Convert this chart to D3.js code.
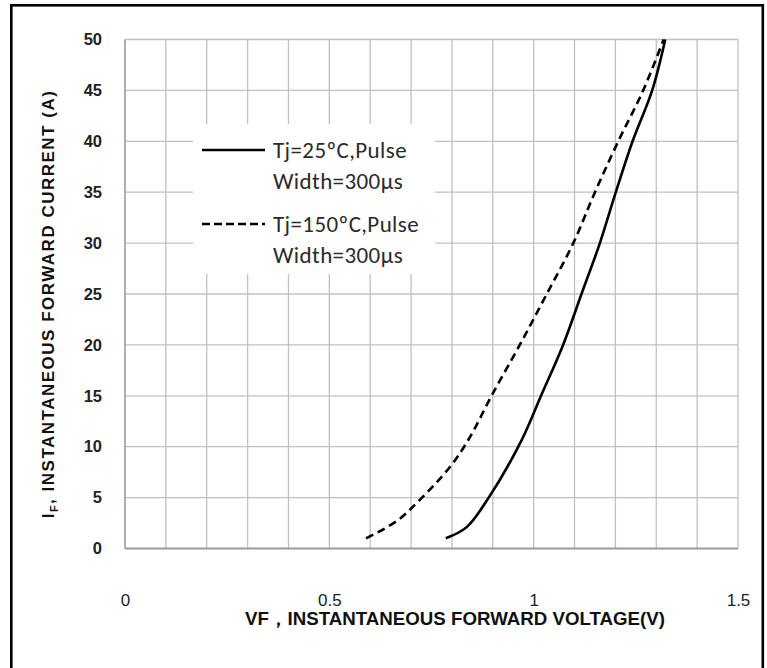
<!DOCTYPE html>
<html>
<head>
<meta charset="utf-8">
<script src="https://cdn.jsdelivr.net/npm/d3@7"></script>
<style>
  html, body { margin: 0; padding: 0; background: #fff; }
  svg { display: block; }
</style>
</head>
<body>
<svg id="chart" width="767" height="668"></svg>
<script>
"use strict";

// axis ticks
var voltTicks = [0, 0.5, 1, 1.5];
var currentTicks = [0, 5, 10, 15, 20, 25, 30, 35, 40, 45, 50];
var voltGrid = d3.range(0, 16).map(function(i) { return i / 10; });

// Tj = 25ºC curve
var vf25 = [0.785, 0.836, 0.89, 0.97, 1.018, 1.072, 1.117, 1.162, 1.201, 1.242, 1.29, 1.322];
var if25 = [1, 2.1, 5, 10.6, 15, 20, 25, 30, 35, 40, 45, 50];

// Tj = 150ºC curve
var vf150 = [0.59, 0.665, 0.722, 0.795, 0.84, 0.897, 0.966, 1.032, 1.097, 1.15, 1.207, 1.268, 1.318];
var if150 = [1, 2.7, 4.8, 8, 10.66, 15, 20, 25, 30, 35, 40, 45, 50];

var legendLabels = [
    ["Tj=25ºC,Pulse", "Width=300µs"],
    ["Tj=150ºC,Pulse", "Width=300µs"]
];

var margin = { left: 125, top: 39.5, right: 29, bottom: 119.5 };
var width = 767 - margin.left - margin.right;
var height = 668 - margin.top - margin.bottom;

var svg = d3.select('#chart');

// outer frame
svg.append('rect')
    .attr('x', 11.3).attr('y', 5.3)
    .attr('width', 751.5).attr('height', 680)
    .attr('fill', 'none')
    .attr('stroke', '#000')
    .attr('stroke-width', 2.6);

var x = d3.scaleLinear().domain([0, 1.5]).range([0, width]);
var y = d3.scaleLinear().domain([0, 50]).range([height, 0]);

var g = svg.append('g')
    .attr('transform', 'translate(' + margin.left + ',' + margin.top + ')');

// grid
g.append('g').selectAll('line').data(voltGrid.slice(1)).enter()
    .append('line')
    .attr('x1', function(d) { return x(d); })
    .attr('x2', function(d) { return x(d); })
    .attr('y1', 0).attr('y2', height)
    .attr('stroke', '#c0c0c0').attr('stroke-width', 1.3);

g.append('g').selectAll('line').data(currentTicks.slice(1)).enter()
    .append('line')
    .attr('x1', 0).attr('x2', width)
    .attr('y1', function(d) { return y(d); })
    .attr('y2', function(d) { return y(d); })
    .attr('stroke', '#c0c0c0').attr('stroke-width', 1.3);

// axis lines (a bit darker than grid)
g.append('line')
    .attr('x1', 0).attr('x2', 0).attr('y1', 0).attr('y2', height)
    .attr('stroke', '#a6a6a6').attr('stroke-width', 1.8);
g.append('line')
    .attr('x1', 0).attr('x2', width).attr('y1', height).attr('y2', height)
    .attr('stroke', '#9a9a9a').attr('stroke-width', 2);

// tick labels through d3 axes, domain and ticks hidden
var yAxis = g.append('g')
    .call(d3.axisLeft(y).tickValues(currentTicks).tickSize(0).tickPadding(23));
var xAxis = g.append('g')
    .attr('transform', 'translate(0,' + height + ')')
    .call(d3.axisBottom(x).tickValues(voltTicks).tickSize(0).tickPadding(45).tickFormat(d3.format('')));

yAxis.select('.domain').remove();
xAxis.select('.domain').remove();

yAxis.selectAll('text')
    .attr('fill', '#222')
    .style('font-family', '"Liberation Sans", Arial, sans-serif')
    .style('font-size', '16.5px')
    .style('font-weight', 'bold');

xAxis.selectAll('text')
    .attr('fill', '#222')
    .style('font-family', '"Liberation Sans Narrow", "Liberation Sans", Arial, sans-serif')
    .style('font-size', '17px');

// legend box covers the grid
var legend = g.append('g').attr('transform', 'translate(' + (193 - margin.left) + ',' + (124 - margin.top) + ')');
legend.append('rect')
    .attr('width', 242).attr('height', 150)
    .attr('fill', '#fff');

var legendItems = legend.selectAll('g.item').data(legendLabels).enter()
    .append('g')
    .attr('class', 'item')
    .attr('transform', function(d, i) { return 'translate(0,' + (i * 74) + ')'; });

legendItems.append('line')
    .attr('x1', 9).attr('x2', 72)
    .attr('y1', 26).attr('y2', 26)
    .attr('stroke', '#000').attr('stroke-width', 2.6)
    .attr('stroke-dasharray', function(d, i) { return i === 1 ? '8,4' : null; });

legendItems.selectAll('text').data(function(d) { return d; }).enter()
    .append('text')
    .attr('x', 80)
    .attr('y', function(d, i) { return 34 + i * 31; })
    .attr('fill', '#2b2b2b')
    .style('font-family', 'Carlito, Lato, "Open Sans", sans-serif')
    .style('font-size', '23px')
    .style('letter-spacing', '0.4px')
    .text(function(d) { return d; });

// curves
var line = d3.line()
    .x(function(d) { return x(d[0]); })
    .y(function(d) { return y(d[1]); })
    .curve(d3.curveCatmullRom.alpha(0.5));

g.append('path')
    .datum(d3.zip(vf25, if25))
    .attr('d', line)
    .attr('fill', 'none')
    .attr('stroke', '#000')
    .attr('stroke-width', 2.6);

g.append('path')
    .datum(d3.zip(vf150, if150))
    .attr('d', line)
    .attr('fill', 'none')
    .attr('stroke', '#000')
    .attr('stroke-width', 2.6)
    .attr('stroke-dasharray', '8,5');

// axis titles
svg.append('text')
    .attr('x', 455).attr('y', 625)
    .attr('text-anchor', 'middle')
    .attr('fill', '#111')
    .attr('textLength', 420)
    .attr('lengthAdjust', 'spacingAndGlyphs')
    .style('font-family', '"Liberation Sans Narrow", "Liberation Sans", Arial, sans-serif')
    .style('font-size', '18px')
    .style('font-weight', 'bold')
    .text('VF，INSTANTANEOUS FORWARD VOLTAGE(V)');

var yTitle = svg.append('text')
    .attr('transform', 'translate(54,304) rotate(-90)')
    .attr('text-anchor', 'middle')
    .attr('fill', '#111')
    .style('font-family', '"Liberation Sans", Arial, sans-serif')
    .style('font-size', '17px')
    .style('font-weight', 'bold')
    .style('letter-spacing', '1.5px');
yTitle.append('tspan').text('I');
yTitle.append('tspan').attr('dy', 4).style('font-size', '11px').text('F');
yTitle.append('tspan').attr('dy', -4).text(', INSTANTANEOUS  FORWARD CURRENT (A)');
</script>
</body>
</html>
